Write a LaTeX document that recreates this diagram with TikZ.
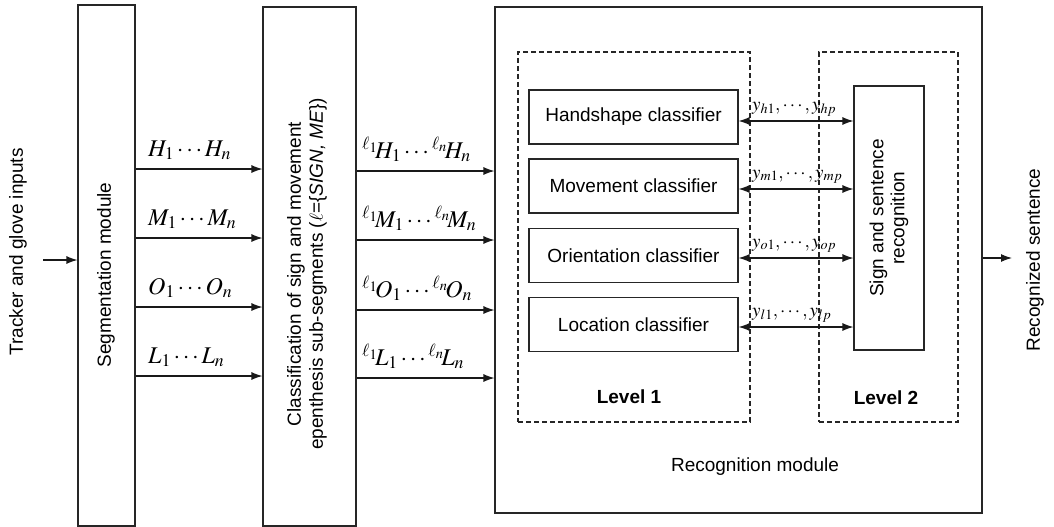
\documentclass[tikz,border=0pt]{standalone}
\usepackage{mathptmx}
\usepackage{fontspec}
\setsansfont{Liberation Sans}
\usetikzlibrary{arrows.meta,calc}

\begin{document}
\begin{tikzpicture}[x=1pt,y=-1pt,
  every node/.style={font=\sffamily\fontsize{19}{21}\selectfont},
  blk/.style={draw=black!85,line width=1.1pt,inner sep=0pt},
  grp/.style={draw=black!85,line width=1.1pt,dash pattern=on 5pt off 3pt,inner sep=0pt},
  arr/.style={line width=1.1pt,draw=black!90,-{Latex[length=11pt,width=8pt]}},
  biarr/.style={line width=1.1pt,draw=black!90,{Latex[length=11pt,width=8pt]}-{Latex[length=11pt,width=8pt]}},
  lab/.style={font=\fontsize{24}{26}\selectfont,inner sep=0pt,anchor=base west},
  ylab/.style={font=\fontsize{19}{22}\selectfont,inner sep=0pt,anchor=base west},
  lvl/.style={font=\sffamily\bfseries\fontsize{19}{21}\selectfont},
]
\useasboundingbox (0,0) rectangle (1054,527);

% input
\node[rotate=90] (trk) at (18,252) {Tracker and glove inputs};
\coordinate (in) at (43,260);

% segmentation module
\node[blk,minimum width=57pt,minimum height=521pt] (seg) at (106.5,265.5) {};
\node[rotate=90] (segt) at (106,275) {Segmentation module};
\draw[arr] (in) -- (in -| seg.west);

% sub-segment classification
\node[blk,minimum width=93pt,minimum height=519pt] (cls) at (309.5,266.5) {};
\node[rotate=90,align=center,font=\sffamily\fontsize{19}{22}\selectfont] (clst) at (307,274)
  {Classification of sign and movement\\epenthesis sub-segments ($\ell$=\{\textit{SIGN, ME}\})};

% rows between segmentation and classification
\foreach \r/\y in {1/169,2/238,3/307,4/376}{
  \coordinate (s\r) at (0,\y);
  \draw[arr] (seg.east |- s\r) -- (cls.west |- s\r);
}
\node[lab] (sh) at (148,156) {$H_1\cdots H_n$};
\node[lab] (sm) at (148,225) {$M_1\cdots M_n$};
\node[lab] (so) at (148,294) {$O_1\cdots O_n$};
\node[lab] (sl) at (148,363) {$L_1\cdots L_n$};

% recognition module
\node[blk,minimum width=487pt,minimum height=506pt] (rec) at (738.5,260) {};
\node (rect) at (755,467) {Recognition module};

% rows between classification and recognition
\foreach \r/\y in {1/171,2/240,3/310,4/378}{
  \coordinate (c\r) at (0,\y);
  \draw[arr] (cls.east |- c\r) -- (rec.west |- c\r);
}
\node[lab] (ch) at (362,158) {${}^{\ell_1}\!H_1\cdots{}^{\ell_n}\!H_n$};
\node[lab] (cm) at (362,227) {${}^{\ell_1}\!M_1\cdots{}^{\ell_n}\!M_n$};
\node[lab] (co) at (362,297) {${}^{\ell_1}\!O_1\cdots{}^{\ell_n}\!O_n$};
\node[lab] (cl) at (362,365) {${}^{\ell_1}\!L_1\cdots{}^{\ell_n}\!L_n$};

% level groups
\node[grp,minimum width=232pt,minimum height=370pt] (lv1) at (634,237) {};
\node[grp,minimum width=139pt,minimum height=370pt] (lv2) at (888.5,237) {};
\node[lvl] (lv1t) at (629,397) {Level 1};
\node[lvl] (lv2t) at (886,398) {Level 2};

% level 1 classifiers
\node[blk,minimum width=209pt,minimum height=54pt] (hand) at (633.5,117) {Handshape classifier};
\node[blk,minimum width=209pt,minimum height=54pt] (move) at (633.5,186) {Movement classifier};
\node[blk,minimum width=209pt,minimum height=54pt] (orie) at (633.5,255.5) {Orientation classifier};
\node[blk,minimum width=209pt,minimum height=54pt] (loca) at (633.5,324.5) {Location classifier};

% level 2 recogniser
\node[blk,minimum width=70pt,minimum height=264pt] (sign) at (889,218) {};
\node[rotate=90,align=center] (signt) at (sign.center) {Sign and sentence\\recognition};

% classifier outputs
\draw[biarr] ([yshift=-4pt]hand.east) -- ([yshift=-4pt]hand.east -| sign.west);
\draw[biarr] ([yshift=-3pt]move.east) -- ([yshift=-3pt]move.east -| sign.west);
\draw[biarr] ([yshift=-2.5pt]orie.east) -- ([yshift=-2.5pt]orie.east -| sign.west);
\draw[biarr] ([yshift=-2.5pt]loca.east) -- ([yshift=-2.5pt]loca.east -| sign.west);
\node[ylab] (yh) at (752,110) {$y_{h1},\cdots,y_{hp}$};
\node[ylab] (ym) at (752,178) {$y_{m1},\cdots,y_{mp}$};
\node[ylab] (yo) at (752,247) {$y_{o1},\cdots,y_{op}$};
\node[ylab] (yl) at (752,316) {$y_{l1},\cdots,y_{lp}$};

% output
\coordinate (out) at (1012,258);
\draw[arr] (rec.east |- out) -- (out);
\node[rotate=90] (outt) at (1035,260) {Recognized sentence};
\end{tikzpicture}
\end{document}
